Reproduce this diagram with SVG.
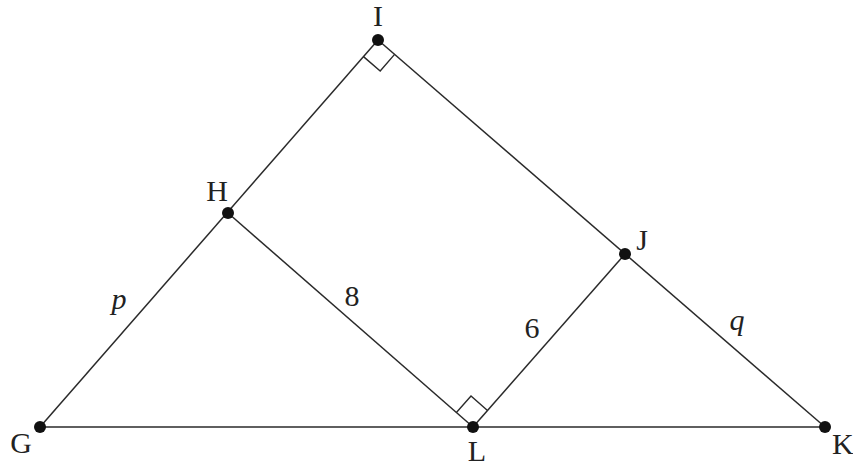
<svg xmlns="http://www.w3.org/2000/svg" width="853" height="466" viewBox="0 0 853 466">
<style>
.seg{stroke:#2a2a2a;stroke-width:1.5;fill:none}
.mark{stroke:#2a2a2a;stroke-width:1.4;fill:none}
.dot{fill:#111}
.lbl{font-family:'Liberation Serif','Times New Roman',serif;font-size:30px;fill:#222}
.it{font-style:italic}
</style>
<rect width="853" height="466" fill="#fff"/>
<g id="connectors">
<line class="seg" x1="40" y1="427" x2="825" y2="427"/>
<line class="seg" x1="40" y1="427" x2="378" y2="40"/>
<line class="seg" x1="378" y1="40" x2="825" y2="427"/>
<line class="seg" x1="228" y1="213" x2="473" y2="427"/>
<line class="seg" x1="473" y1="427" x2="625" y2="254"/>
<polyline class="mark" points="363.5,56.6 380.2,71.0 394.6,54.4"/>
<polyline class="mark" points="456.4,412.5 471.0,396.0 487.5,410.5"/>
</g>
<g id="node-I"><circle class="dot" cx="378" cy="40" r="6"/><text class="lbl" font-family="Liberation Serif" x="378" y="26" text-anchor="middle">I</text></g>
<g id="node-H"><circle class="dot" cx="228" cy="213" r="6"/><text class="lbl" font-family="Liberation Serif" x="217" y="201" text-anchor="middle">H</text></g>
<g id="node-J"><circle class="dot" cx="625" cy="254" r="6"/><text class="lbl" font-family="Liberation Serif" x="642" y="250" text-anchor="middle">J</text></g>
<g id="node-G"><circle class="dot" cx="40" cy="427" r="6"/><text class="lbl" font-family="Liberation Serif" x="21" y="453" text-anchor="middle">G</text></g>
<g id="node-L"><circle class="dot" cx="473" cy="427" r="6"/><text class="lbl" font-family="Liberation Serif" x="477" y="461" text-anchor="middle">L</text></g>
<g id="node-K"><circle class="dot" cx="825" cy="427" r="6"/><text class="lbl" font-family="Liberation Serif" x="832" y="454">K</text></g>
<g id="labels">
<text class="lbl it" font-family="Liberation Serif" x="119" y="309" text-anchor="middle">p</text>
<text class="lbl" font-family="Liberation Serif" x="352" y="306" text-anchor="middle">8</text>
<text class="lbl" font-family="Liberation Serif" x="532" y="338" text-anchor="middle">6</text>
<text class="lbl it" font-family="Liberation Serif" x="737" y="330" text-anchor="middle">q</text>
</g>
</svg>
